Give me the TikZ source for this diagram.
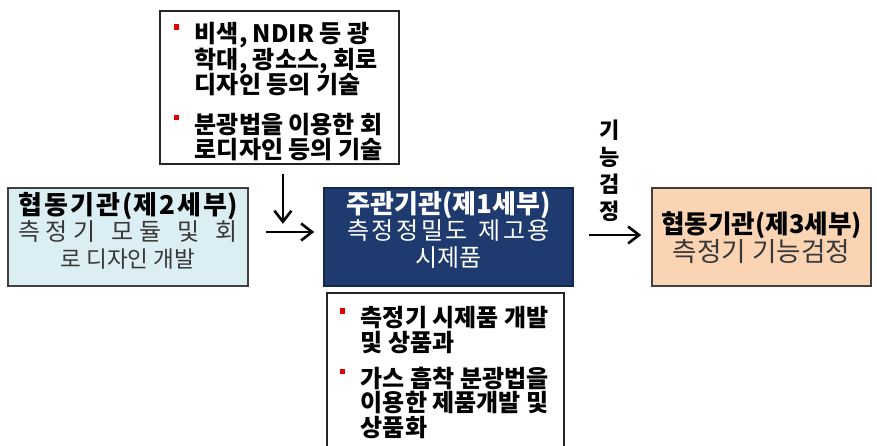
\documentclass[tikz,border=0pt]{standalone}
\usepackage{fontspec}
\setmainfont{Noto Sans CJK KR}
\usetikzlibrary{arrows.meta}
\definecolor{lblue}{HTML}{DBEEF4}
\definecolor{navy}{HTML}{1F3A6E}
\definecolor{navyline}{HTML}{14284D}
\definecolor{peach}{HTML}{FBD4B4}
\definecolor{txtgray}{HTML}{383838}
\definecolor{boxline}{HTML}{404040}
\definecolor{bulred}{HTML}{E00000}
\newcommand\bulsq{\leavevmode\llap{\textcolor{bulred}{\rule[6.5pt]{2.75pt}{2.75pt}}\hspace{7.75pt}}}
\tikzset{
  mainbox/.style={draw=boxline, line width=0.8pt, inner sep=0pt},
  notebox/.style={draw=black!85, line width=0.9pt, fill=white, inner sep=0pt},
  arr/.style={line width=1.3pt, -{Straight Barb[length=5.5pt,width=8.5pt]}},
}
\begin{document}
\begin{tikzpicture}[x=0.5pt,y=-0.5pt]
\useasboundingbox (0,0) rectangle (877,445);
\clip (0,0) rectangle (877,445);
\fill[white] (0,0) rectangle (877,445);

% top note box
\node[notebox, anchor=north west] (tech) at (159,10)
 {\parbox[c][76.5pt][t]{119.5pt}{\raggedright\leftskip=17.5pt\lineskiplimit=-100pt
  \fontsize{12}{12.6}\selectfont\bfseries
  \rule{0pt}{16pt}\bulsq 비색, NDIR 등 광\\
  학대, 광소스, 회로\\
  디자인 등의 기술\\[7.3pt]
  \bulsq 분광법을 이용한 회\\
  로디자인 등의 기술}};

% left box
\node[mainbox, fill=lblue] (lbox) at (128,237)
 {\parbox[c][49pt][t]{120pt}{\centering\lineskiplimit=-100pt
  \fontsize{12}{13.3}\selectfont
  \rule{0pt}{13pt}{\fontsize{13}{13.3}\selectfont\bfseries\makebox[109.5pt][s]{협\hfil 동\hfil 기\hfil 관\hfil (제\hfil 2\hfil 세\hfil 부)}}\\
  {\color{txtgray}\makebox[109.5pt][s]{측\hfil 정\hfil 기\hfil\ \hfil 모\hfil 듈\hfil\ \hfil 및\hfil\ \hfil 회}\\
  {\fontsize{11.3}{13.3}\selectfont 로 디자인 개발}}}};

% center box
\node[mainbox, draw=navyline, fill=navy, text=white] (cbox) at (448.5,237)
 {\parbox[c][49pt][t]{124.5pt}{\centering\lineskiplimit=-100pt
  \fontsize{12}{13.3}\selectfont
  \rule{0pt}{12.5pt}{\fontsize{13}{13.3}\selectfont\bfseries 주관기관(제1세부)}\\
  \makebox[101.5pt][s]{측\hfil 정\hfil 정\hfil 밀\hfil 도\hfil\ \hfil 제\hfil 고\hfil 용}\\
  시제품}};

% right box
\node[mainbox, fill=peach] (rbox) at (761.5,237)
 {\parbox[c][49pt][t]{109.5pt}{\centering\lineskiplimit=-100pt
  \fontsize{13.3}{14}\selectfont
  \rule{0pt}{22.5pt}{\fontsize{12.8}{14}\selectfont\bfseries 협동기관(제3세부)}\\
  {\color{txtgray}측정기 기능검정}}};

% bottom note box
\node[notebox, anchor=north west] (prod) at (326,292)
 {\parbox[c][85pt][t]{118.5pt}{\raggedright\leftskip=17pt\lineskiplimit=-100pt
  \fontsize{12}{12.25}\selectfont\bfseries
  \rule{0pt}{17pt}\bulsq 측정기 시제품 개발\\
  및 상품과\\[5.75pt]
  \bulsq 가스 흡착 분광법을\\
  이용한 제품개발 및\\
  상품화}};

% vertical label
\node[inner sep=0pt, anchor=north] (lbl) at (610,120)
 {\parbox[c][52pt][t]{20pt}{\centering\lineskiplimit=-100pt
  \fontsize{11}{13.5}\selectfont\bfseries
  \rule{0pt}{7.5pt}기\\능\\검\\정}};

% connectors
\coordinate (dtop) at ([shift={(3.5,9)}]tech.south);
\coordinate (dbot) at ([shift={(3.5,59)}]tech.south);
\draw[arr] (dtop) -- (dbot);
\draw[arr] ([shift={(17,-5)}]lbox.east) -- ([shift={(-9,-5)}]cbox.west);
\draw[arr] ([shift={(15,-2)}]cbox.east) -- ([shift={(-10,-2)}]rbox.west);
\end{tikzpicture}
\end{document}
